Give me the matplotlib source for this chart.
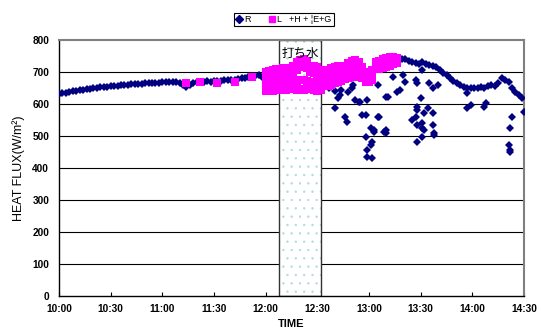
import numpy as np
import matplotlib
matplotlib.use("Agg")
from matplotlib import pyplot as plt
from matplotlib.patches import Rectangle
from matplotlib.lines import Line2D

# minutes after 10:00
R_trend_min = list(range(0, 128, 2))
R_trend = [632, 634, 636, 638, 640, 641, 643, 645, 646, 647,
           649, 650, 652, 652, 654, 655, 656, 657, 659, 660,
           660, 662, 663, 663, 664, 665, 665, 666, 667, 667,
           668, 668, 669, 669, 668, 665, 658, 652, 660, 666,
           668, 669, 670, 671, 670, 672, 673, 672, 674, 675,
           676, 675, 678, 680, 682, 683, 685, 688, 692, 685,
           690, 694, 688, 680]

R_after_min = list(range(153, 271, 2))
R_after = [697, 706, 712, 716, 700, 690, 685, 690, 700, 705,
           690, 680, 685, 695, 700, 705, 712, 722, 730, 737,
           740, 738, 735, 742, 740, 735, 730, 728, 725, 731,
           725, 722, 718, 716, 705, 697, 690, 681, 673, 666,
           659, 653, 650, 650, 649, 651, 653, 650, 655, 659,
           655, 665, 681, 675, 669, 650, 637, 628, 619]

R_scatter_min = [157, 160, 160, 162, 163, 164, 166, 167, 168, 170,
                 171, 172, 174, 175, 176, 178, 178, 179, 179, 179,
                 181, 181, 182, 182, 183, 183, 185, 185, 186, 189,
                 190, 190, 190, 191, 194, 196, 198, 200, 201, 205,
                 207, 207, 208, 208, 208, 208, 208, 210, 211, 211,
                 211, 211, 212, 212, 214, 215, 217, 217, 217, 218,
                 218, 220, 237, 237, 239, 247, 248, 261, 262, 262,
                 262, 263, 270]
R_scatter = [650, 640, 588, 619, 628, 645, 559, 544, 637, 650,
             659, 612, 606, 606, 566, 566, 497, 612, 456, 434,
             525, 472, 431, 481, 512, 519, 659, 559, 559, 512,
             509, 519, 622, 622, 684, 637, 644, 691, 669, 550,
             559, 675, 666, 534, 481, 581, 591, 619, 706, 525,
             541, 497, 572, 519, 588, 666, 650, 572, 534, 509,
             503, 659, 587, 634, 597, 591, 603, 472, 456, 450,
             525, 559, 575]

L_early_min = [74, 82, 92, 102, 112]
L_early = [666, 669, 666, 669, 684]

L_band_min = list(range(120, 198, 2))
L_a = [640, 640, 642, 645, 645, 646, 645, 647, 646, 645,
       646, 645, 646, 648, 645, 640, 645, 655, 657, 660,
       665, 668, 672, 678, 682, 685, 688, 686, 680, 670,
       668, 675, 708, 710, 712, 715, 718, 725, 728]
L_b = [660, 662, 664, 666, 667, 668, 667, 669, 670, 672,
       676, 675, 673, 670, 668, 663, 662, 668, 672, 676,
       680, 684, 686, 690, 695, 698, 700, 700, 692, 680,
       678, 685, 715, 718, 722, 725, 728, 732, 734]
L_c = [680, 683, 686, 688, 690, 690, 690, 692, 695, 705,
       716, 718, 712, 700, 698, 692, 685, 685, 690, 695,
       700, 702, 702, 706, 712, 718, 720, 718, 705, 692,
       690, 696, 722, 728, 732, 736, 740, 742, 741]
L_d = [700, 704, 706, 708, 710, 712, 710, 712, 718, 730,
       738, 740, 735, 720, 718, 715, 705, 700, 705, 712,
       715, 718, 716, 720, 728, 735, 737, 730, 715, 700,
       698, 705, 730, 735, 740, 745, 748, 748, 745]

x_ticks = [0, 30, 60, 90, 120, 150, 180, 210, 240, 270]
x_labels = ["10:00", "10:30", "11:00", "11:30", "12:00",
            "12:30", "13:00", "13:30", "14:00", "14:30"]
y_ticks = [0, 100, 200, 300, 400, 500, 600, 700, 800]

# watering period (打ち水)
water_start, water_end = 128, 152

navy = "#000080"
pink = "#FF00FF"

plt.rcParams['font.family'] = ['Liberation Sans', 'DejaVu Sans']
plt.rcParams['hatch.linewidth'] = 0.4

fig = plt.figure(figsize=(5.41, 3.31), dpi=100)
ax = fig.add_axes([0.109, 0.106, 0.8596, 0.773])

ax.set_xlim(0, 270)
ax.set_ylim(0, 800)
for v in y_ticks[1:-1]:
    ax.axhline(v, color="black", lw=0.8, zorder=1)

# shaded box
ax.add_patch(Rectangle((water_start, 0), water_end - water_start, 800,
                       facecolor="white", edgecolor="#a9d9df", lw=0,
                       hatch="..", zorder=2))
ax.add_patch(Rectangle((water_start, 0), water_end - water_start, 800,
                       fill=False, edgecolor="#333333", lw=1.0, zorder=2.5))
ax.text((water_start + water_end) / 2, 757, "打ち水", ha="center", va="center",
        fontsize=9, family=['Noto Sans CJK JP'], zorder=6)

# R series
R_min = R_trend_min + R_after_min + R_scatter_min
R_val = R_trend + R_after + R_scatter
ax.plot(R_min, R_val, ls="", marker="D", ms=4, color=navy,
        markeredgewidth=0, zorder=3)

# L series
L_min = L_early_min + L_band_min * 4
L_val = L_early + L_a + L_b + L_c + L_d
ax.plot(L_min, L_val, ls="", marker="s", ms=5.6, color=pink,
        markeredgewidth=0, zorder=4)

ax.set_xticks(x_ticks)
ax.set_xticklabels(x_labels)
ax.set_yticks(y_ticks)
ax.tick_params(axis="x", direction="in", length=3, pad=6, labelsize=7.3)
ax.tick_params(axis="y", length=0, pad=7, labelsize=7.3)
for lab in ax.get_xticklabels() + ax.get_yticklabels():
    lab.set_fontweight("bold")

for s in ["left", "bottom"]:
    ax.spines[s].set_color("black")
    ax.spines[s].set_linewidth(1.0)
for s in ["top", "right"]:
    ax.spines[s].set_color("#808080")
    ax.spines[s].set_linewidth(1.5)

ax.set_ylabel("HEAT FLUX(W/m²)", fontsize=9, labelpad=5)
fig.text(0.539, 0.035, "TIME", ha="center", va="top", fontsize=8, fontweight="bold")

handles = [Line2D([], [], ls="", marker="D", ms=3.6, color=navy),
           Line2D([], [], ls="", marker="s", ms=5, color=pink)]
leg = fig.legend(handles, ["R", "L   +H + ¦E+G"], loc="upper center",
                 bbox_to_anchor=(0.525, 0.975), ncol=2, fontsize=6.5,
                 fancybox=False, framealpha=1, edgecolor="black",
                 handlelength=0.6, handletextpad=0.3, columnspacing=2.0,
                 borderpad=0.25)
leg.get_frame().set_linewidth(0.8)

fig.savefig("out.png", dpi=100)
